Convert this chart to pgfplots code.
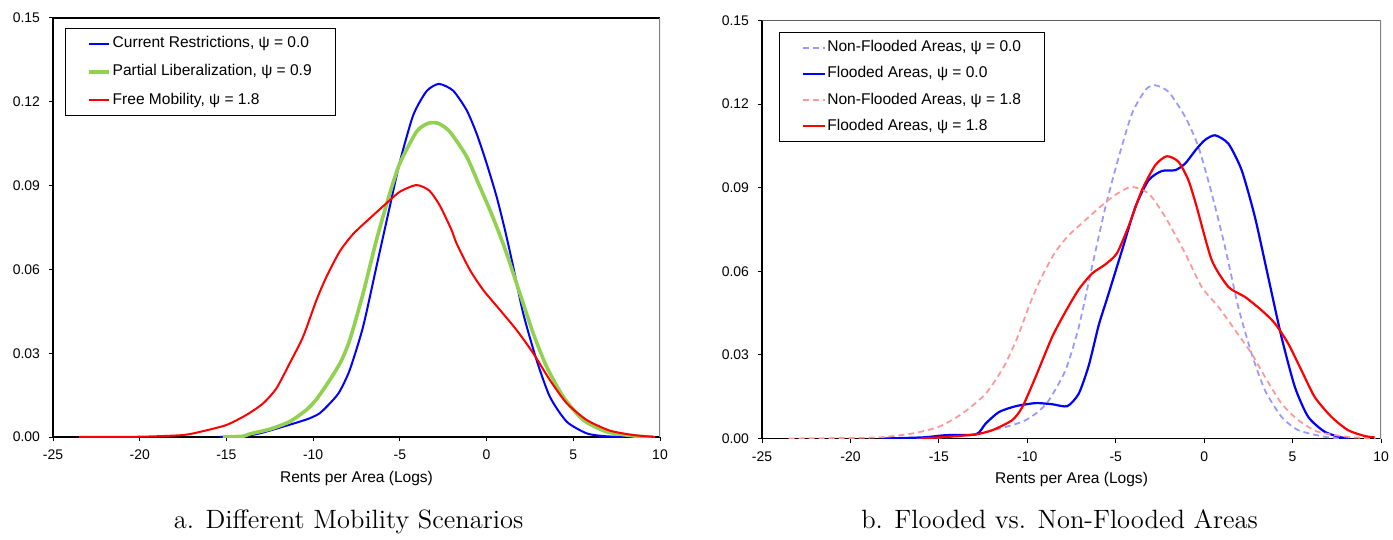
\documentclass[border=0pt]{standalone}
\usepackage{fontspec}
\usepackage{pgfplots}
\pgfplotsset{compat=1.18}
\newfontfamily\arial{Liberation Sans}
\definecolor{cblue}{HTML}{0000FF}
\definecolor{cred}{HTML}{FF0000}
\definecolor{cgreen}{HTML}{92D050}
\definecolor{lblue}{HTML}{9999FF}
\definecolor{lred}{HTML}{FF9999}
\definecolor{frame}{HTML}{808080}
\definecolor{dframe}{HTML}{606060}

\pgfplotsset{
  myaxis/.style={
    scale only axis, anchor=south west,
    xmin=-25, xmax=10, ymin=0, ymax=0.15,
    axis x line*=bottom, axis y line*=left,
    axis line style={line width=0.6bp, black},
    xtick={-25,-20,-15,-10,-5,0,5,10},
    xticklabels={-25,-20,-15,-10,-5,0,5,10},
    ytick={0,0.03,0.06,0.09,0.12,0.15},
    yticklabels={0.00,0.03,0.06,0.09,0.12,0.15},
    tick align=outside, tick pos=left,
    major tick length=2bp,
    tick style={black, line width=0.5bp},
    ticklabel style={font=\arial\fontsize{7}{8}\selectfont},
    xticklabel style={yshift=-1bp},
    yticklabel style={xshift=-1bp},
    xlabel={Rents per Area (Logs)},
    xlabel style={font=\arial\fontsize{7.8}{9}\selectfont, at={(axis description cs:0.5,0)}, anchor=center, yshift=-20.5bp},
    legend cell align=left,
    legend style={draw=black, line width=0.5bp, anchor=north west,
      font=\arial\fontsize{7.8}{9}\selectfont,
      inner xsep=11bp, inner ysep=2.5bp,
      nodes={inner xsep=0.8bp, inner ysep=1bp, text height=6bp, text depth=2bp}},
  },
  legA/.style={legend image code/.code={\draw[##1] (0bp,0bp) -- (10bp,0bp);}},
  legB/.style={legend image code/.code={\draw[##1] (0bp,0bp) -- (11bp,0bp);}},
}

\begin{document}
\begin{tikzpicture}
\path[use as bounding box] (0,0) rectangle (696.5bp,270bp);

% ---------------- Panel a ----------------
\begin{axis}[myaxis, legA,
  at={(26.5bp,51.5bp)}, width=303.5bp, height=209.5bp,
  legend style={at={(axis description cs:0.0198,0.976)}, row sep=4.2bp},
]
\draw[black, line width=0.6bp] (rel axis cs:0,1) -- (rel axis cs:1,1);
\draw[frame, line width=0.9bp] (rel axis cs:1,1) -- (rel axis cs:1,0);
\addplot[cblue, line width=1bp, smooth, tension=0.4] coordinates {
(-15.4,0) (-14,0.0003) (-13.08,0.0013) (-11.73,0.0037) (-10.77,0.0055) (-10.2,0.0067) (-9.62,0.0085) (-9.04,0.012)
(-8.5,0.016) (-7.89,0.024) (-7.12,0.0395) (-6.35,0.061) (-5.58,0.0825) (-5.0,0.0985) (-4.23,0.1152)
(-3.46,0.1238) (-2.75,0.1264) (-1.93,0.124) (-1.15,0.117) (-0.58,0.1087) (0.0,0.098) (0.58,0.086)
(1.06,0.0741) (1.5,0.062) (2.11,0.0443) (2.88,0.0276) (3.65,0.0144) (4.62,0.0055) (5.77,0.0013) (6.8,0.0003) (7.9,0)
};
\addlegendentry{Current Restrictions, ψ = 0.0}
\addplot[cgreen, line width=1.8bp, tension=0.4, smooth] coordinates {
(-15.2,0) (-14,0.0003) (-13.66,0.0011) (-12.5,0.0028) (-11.35,0.0055) (-10.39,0.0097) (-9.81,0.0135) (-9.04,0.0204)
(-8.4,0.027) (-7.89,0.0347) (-7.12,0.0514) (-6.35,0.0705) (-5.58,0.0872) (-5.0,0.098) (-4.04,0.1093)
(-3.37,0.1123) (-2.79,0.1123) (-2.12,0.1093) (-1.15,0.1004) (-0.39,0.0896) (0.19,0.0813) (0.58,0.0753) (1.15,0.0658)
(1.92,0.0514) (2.69,0.0371) (3.46,0.0252) (4.42,0.0144) (5.57,0.0061) (6.92,0.0019) (8.46,0.0004) (9.6,0)
};
\addlegendentry{Partial Liberalization, ψ = 0.9}
\addplot[cred, line width=1bp, smooth, tension=0.4] coordinates {
(-23.5,0) (-20,0.0001) (-17.5,0.0007) (-16.35,0.0021) (-15.0,0.0043) (-13.85,0.0079) (-12.89,0.012)
(-12.12,0.0174) (-11.35,0.0264) (-10.58,0.0359) (-9.81,0.049) (-9.23,0.0574) (-8.46,0.0665) (-7.69,0.0727)
(-6.73,0.0783) (-5.77,0.0837) (-5.0,0.0878) (-4.04,0.0902) (-3.3,0.0882) (-2.69,0.0828) (-2.02,0.0741) (-1.73,0.0693)
(-0.96,0.0598) (-0.19,0.0526) (0.77,0.0455) (1.73,0.0383) (2.69,0.03) (3.65,0.0204) (4.62,0.0121)
(5.77,0.0061) (7.1,0.0023) (8.46,0.0007) (9.7,0)
};
\addlegendentry{Free Mobility, ψ = 1.8}
\end{axis}

% ---------------- Panel b ----------------
\begin{axis}[myaxis, legB,
  at={(381bp,50.75bp)}, width=309.5bp, height=209bp,
  legend style={at={(axis description cs:0.0275,0.972)}, row sep=3.1bp},
]
\draw[dframe, line width=0.8bp] (rel axis cs:0,1) -- (rel axis cs:1,1);
\draw[frame, line width=0.9bp] (rel axis cs:1,1) -- (rel axis cs:1,0);
\addplot[lblue, line width=0.9bp, dash pattern=on 3bp off 2bp, smooth, tension=0.4] coordinates {
(-18,0) (-14.6,0.0004) (-12.7,0.0018) (-10.85,0.0048) (-10.09,0.0066) (-9.4,0.0095) (-8.78,0.0137) (-7.84,0.0245)
(-7.09,0.04) (-6.34,0.0616) (-5.58,0.0831) (-4.83,0.101) (-4.08,0.1166) (-3.33,0.125) (-2.8,0.1268)
(-2.01,0.1244) (-1.07,0.1154) (-0.32,0.1046) (0.43,0.0879) (1.18,0.0687) (1.93,0.0472) (2.68,0.0305)
(3.44,0.0173) (4.37,0.0078) (5.32,0.003) (6.82,0.0006) (7.9,0)
};
\addlegendentry{Non-Flooded Areas, ψ = 0.0}
\addplot[cblue, line width=1.1bp, smooth, tension=0.4] coordinates {
(-18.2,0) (-15.9,0.0004) (-14.6,0.0012) (-12.9,0.0015) (-12.35,0.0054) (-11.6,0.0095) (-10.65,0.0116)
(-9.53,0.0127) (-8.59,0.0123) (-7.74,0.0116) (-7.09,0.0161) (-6.52,0.0263) (-5.96,0.0407) (-5.49,0.0502)
(-4.64,0.0676) (-3.89,0.0831) (-3.14,0.0927) (-2.39,0.096) (-1.63,0.0963) (-1.07,0.0987) (-0.42,0.104)
(0.06,0.1072) (0.62,0.1088) (1.37,0.1058) (2.12,0.0963) (2.87,0.0795) (3.62,0.058) (4.37,0.0365)
(5.13,0.0185) (5.88,0.0078) (6.82,0.0024) (7.76,0.0004) (8.2,0)
};
\addlegendentry{Flooded Areas, ψ = 0.0}
\addplot[lred, line width=0.9bp, dash pattern=on 3bp off 2bp, smooth, tension=0.4] coordinates {
(-23.5,0) (-20,0.0002) (-18.2,0.0005) (-16.5,0.0018) (-15.0,0.0042) (-13.66,0.009) (-12.35,0.0161)
(-11.35,0.0255) (-10.58,0.0359) (-9.81,0.049) (-9.23,0.0574) (-8.46,0.0665) (-7.69,0.0727)
(-6.73,0.0783) (-5.77,0.0837) (-5.0,0.0875) (-4.12,0.0903) (-3.14,0.0879) (-2.2,0.0795) (-1.07,0.0664)
(-0.14,0.0544) (0.81,0.0472) (1.75,0.0389) (2.68,0.0305) (3.44,0.0221) (4.37,0.0126) (5.32,0.0066)
(6.44,0.0024) (8.13,0.0006) (9.7,0)
};
\addlegendentry{Non-Flooded Areas, ψ = 1.8}
\addplot[cred, line width=1.1bp, smooth, tension=0.4] coordinates {
(-16,0) (-14.5,0.0006) (-12.9,0.0015) (-11.97,0.003) (-10.85,0.0066) (-10.28,0.0113) (-9.53,0.0221)
(-8.59,0.0365) (-7.84,0.0455) (-7.09,0.0535) (-6.34,0.0592) (-5.58,0.0625) (-4.93,0.0665) (-4.27,0.0762)
(-3.52,0.0891) (-2.76,0.0981) (-2.11,0.1013) (-1.45,0.0993) (-0.89,0.0927) (-0.42,0.0831)
(0.43,0.064) (1.37,0.0544) (2.31,0.0508) (3.25,0.046) (4.0,0.0413) (4.75,0.0341) (5.5,0.0245)
(6.25,0.0149) (7.19,0.0078) (8.13,0.003) (9.07,0.0009) (9.64,0.0004)
};
\addlegendentry{Flooded Areas, ψ = 1.8}
\end{axis}

% captions
\node[anchor=base, font=\fontsize{13.3}{15}\selectfont] at (174.3bp,6bp) {a. Different Mobility Scenarios};
\node[anchor=base, font=\fontsize{13.3}{15}\selectfont] at (529.8bp,6bp) {b. Flooded vs. Non-Flooded Areas};
\end{tikzpicture}
\end{document}
